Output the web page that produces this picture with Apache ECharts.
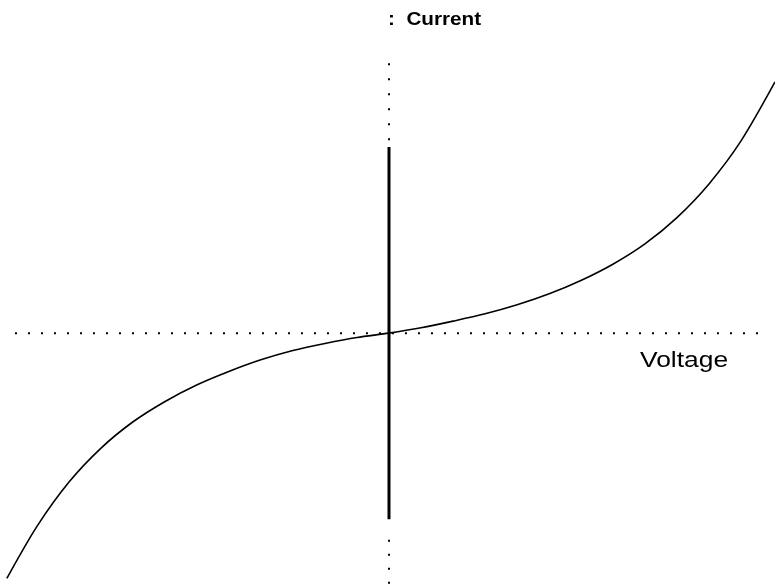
<!DOCTYPE html>
<html>
<head>
<meta charset="utf-8">
<script src="https://cdn.jsdelivr.net/npm/echarts@6/dist/echarts.min.js"></script>
<style>
html,body{margin:0;padding:0;background:#fff;}
#chart{width:775px;height:585px;}
</style>
</head>
<body>
<div id="chart"></div>
<script>
// I-V characteristic (normalized units)
const voltage = [-0.990,-0.912,-0.829,-0.746,-0.663,-0.580,-0.497,-0.415,-0.332,-0.249,-0.166,-0.083,0,
  0.083,0.166,0.249,0.332,0.415,0.497,0.580,0.663,0.746,0.829,0.912,1.0];
const current = [-0.736,-0.580,-0.447,-0.345,-0.266,-0.205,-0.155,-0.115,-0.080,-0.052,-0.031,-0.013,0,
  0.016,0.036,0.058,0.085,0.118,0.158,0.207,0.268,0.347,0.448,0.577,0.754];
// axis extents
const hAxisX = [-0.969, 0.974];
const vAxisUpperY = [0.81, 0.56];
const vAxisLowerY = [-0.62, -0.757];
const solidBarY = [0.559, -0.559];
const xLabel = 'Voltage';
const yLabel = ':  Current';

const chart = echarts.init(document.getElementById('chart'));
chart.setOption({
  animation: false,
  backgroundColor: '#fff',
  grid: {left: 3, right: 0, top: 0, bottom: 2},
  xAxis: {type: 'value', min: -1, max: 1, show: false},
  yAxis: {type: 'value', min: -0.75, max: 1, show: false},
  series: [
    {type: 'line', data: hAxisX.map(x => [x, 0]), symbol: 'none', silent: true,
     lineStyle: {color: '#000', width: 2, type: [2, 11]}},
    {type: 'line', data: vAxisUpperY.map(y => [0, y]), symbol: 'none', silent: true,
     lineStyle: {color: '#000', width: 2, type: [2, 13]}},
    {type: 'line', data: vAxisLowerY.map(y => [0, y]), symbol: 'none', silent: true,
     lineStyle: {color: '#000', width: 2, type: [2, 12]}},
    {type: 'line', data: solidBarY.map(y => [0, y]), symbol: 'none', silent: true,
     lineStyle: {color: '#000', width: 3}},
    {type: 'line', data: voltage.map((v, i) => [v, current[i]]), symbol: 'none', smooth: 0.3,
     lineStyle: {color: '#000', width: 1.6}}
  ],
  graphic: [
    {type: 'text', left: 388, top: 11, scaleX: 1.15,
     style: {text: yLabel, fill: '#000', font: 'bold 18px "Liberation Sans", Arial, sans-serif'}},
    {type: 'text', left: 640, top: 350, scaleX: 1.2,
     style: {text: xLabel, fill: '#000', font: '22px "Liberation Sans", Arial, sans-serif'}}
  ]
});
</script>
</body>
</html>
